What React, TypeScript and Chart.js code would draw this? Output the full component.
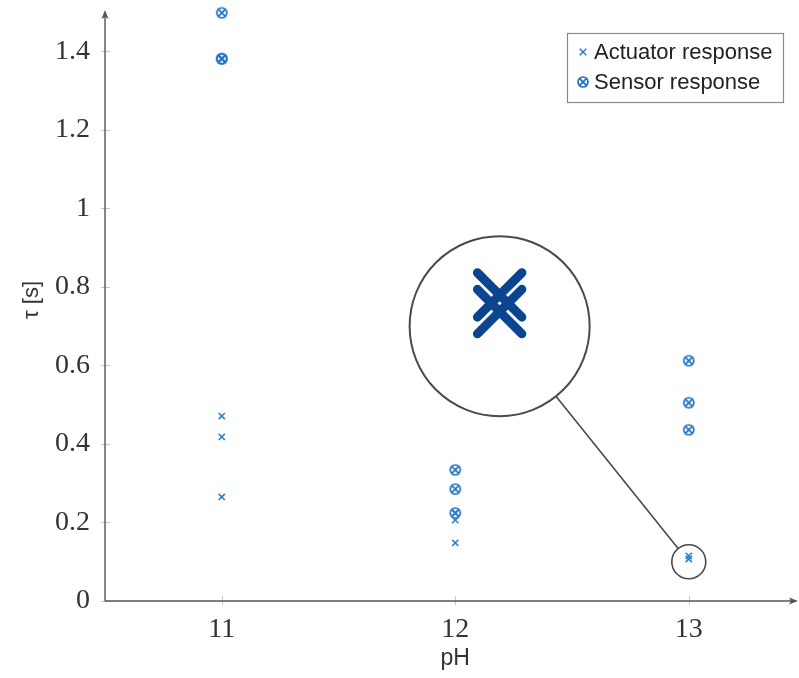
import React, { useEffect, useRef } from "react";
import { Chart, registerables } from "chart.js";

Chart.register(...registerables);

// ---- data ----
const actuatorPH = [11, 11, 11, 12, 12, 12, 13, 13];
const actuatorTau = [0.471, 0.418, 0.265, 0.224, 0.206, 0.148, 0.115, 0.107];
const sensorPH = [11, 11, 11, 12, 12, 12, 13, 13, 13];
const sensorTau = [1.498, 1.381, 1.381, 0.334, 0.285, 0.224, 0.612, 0.505, 0.436];
const xTicks = [11, 12, 13];
const yTicks = [0, 0.2, 0.4, 0.6, 0.8, 1, 1.2, 1.4];
const seriesNames = ["Actuator response", "Sensor response"];
const xTitle = "pH";
const yTitle = "τ [s]";
const zoomTarget = { x: 13, y: 0.1 };
const insetCenter = { x: 12.19, y: 0.7 };

const ACT_COLOR = "#2a7fcc";
const SEN_COLOR = "#1f72c0";
const INSET_COLOR = "#0b4590";
const AXIS_COLOR = "#555555";

function makeSensorMarker(color: string): HTMLCanvasElement {
  const c = document.createElement("canvas");
  const s = 14;
  c.width = s;
  c.height = s;
  const g = c.getContext("2d")!;
  g.strokeStyle = color;
  g.lineWidth = 1.7;
  g.beginPath();
  g.arc(7, 7, 5, 0, Math.PI * 2);
  g.stroke();
  const d = 5 / Math.SQRT2;
  g.beginPath();
  g.moveTo(7 - d, 7 - d);
  g.lineTo(7 + d, 7 + d);
  g.moveTo(7 + d, 7 - d);
  g.lineTo(7 - d, 7 + d);
  g.stroke();
  return c;
}

function drawX(ctx: CanvasRenderingContext2D, x: number, y: number, h: number) {
  ctx.beginPath();
  ctx.moveTo(x - h, y - h);
  ctx.lineTo(x + h, y + h);
  ctx.moveTo(x + h, y - h);
  ctx.lineTo(x - h, y + h);
  ctx.stroke();
}

export default function App() {
  const ref = useRef<HTMLCanvasElement | null>(null);

  useEffect(() => {
    document.body.style.margin = "0";
    const canvas = ref.current!;
    const sensorMarker = makeSensorMarker(SEN_COLOR);

    const decorPlugin = {
      id: "decor",
      beforeDatasetsDraw(chart: any) {
        const ctx = chart.ctx as CanvasRenderingContext2D;
        const { left, top, bottom } = chart.chartArea;
        const right = chart.chartArea.right + 4;
        const xs = chart.scales.x;
        const ys = chart.scales.y;
        ctx.save();
        // faint tick marks
        ctx.strokeStyle = "#c8c8c8";
        ctx.lineWidth = 1;
        yTicks.forEach((v) => {
          const py = Math.round(ys.getPixelForValue(v)) + 0.5;
          ctx.beginPath();
          ctx.moveTo(left - 4, py);
          ctx.lineTo(left + 5, py);
          ctx.stroke();
        });
        xTicks.forEach((v) => {
          const px = Math.round(xs.getPixelForValue(v)) + 0.5;
          ctx.beginPath();
          ctx.moveTo(px, bottom - 5);
          ctx.lineTo(px, bottom + 4);
          ctx.stroke();
        });
        // axes with arrows
        ctx.strokeStyle = AXIS_COLOR;
        ctx.fillStyle = AXIS_COLOR;
        ctx.lineWidth = 1.4;
        ctx.beginPath();
        ctx.moveTo(left, bottom);
        ctx.lineTo(left, top);
        ctx.moveTo(left, bottom);
        ctx.lineTo(right, bottom);
        ctx.stroke();
        ctx.beginPath();
        ctx.moveTo(left, top - 2);
        ctx.lineTo(left - 3.5, top + 7);
        ctx.lineTo(left, top + 5);
        ctx.lineTo(left + 3.5, top + 7);
        ctx.closePath();
        ctx.fill();
        ctx.beginPath();
        ctx.moveTo(right + 2, bottom);
        ctx.lineTo(right - 7, bottom - 3.5);
        ctx.lineTo(right - 5, bottom);
        ctx.lineTo(right - 7, bottom + 3.5);
        ctx.closePath();
        ctx.fill();

        // axis titles
        ctx.fillStyle = "#333333";
        ctx.textAlign = "center";
        ctx.textBaseline = "middle";
        ctx.font = "23px 'Liberation Sans', Arial, sans-serif";
        ctx.fillText(xTitle, xs.getPixelForValue(12), 659);
        ctx.save();
        ctx.translate(32, 300);
        ctx.rotate(-Math.PI / 2);
        ctx.font = "22px 'Liberation Sans', Arial, sans-serif";
        ctx.fillText(yTitle, 0, 0);
        ctx.restore();
        ctx.restore();
      },
      afterDatasetsDraw(chart: any) {
        const ctx = chart.ctx as CanvasRenderingContext2D;
        const xs = chart.scales.x;
        const ys = chart.scales.y;
        ctx.save();
        // --- inset magnifier ---
        const zc = { x: xs.getPixelForValue(zoomTarget.x), y: ys.getPixelForValue(zoomTarget.y) };
        const ic = { x: xs.getPixelForValue(insetCenter.x), y: ys.getPixelForValue(insetCenter.y) };
        const r1 = 17;
        const r2 = 90;
        const mag = r2 / r1;
        const dx = zc.x - ic.x;
        const dy = zc.y - ic.y;
        const dist = Math.hypot(dx, dy);
        const ux = dx / dist;
        const uy = dy / dist;
        ctx.strokeStyle = "#4a4a4a";
        ctx.lineWidth = 1.6;
        ctx.beginPath();
        ctx.moveTo(ic.x + ux * r2, ic.y + uy * r2);
        ctx.lineTo(zc.x - ux * r1, zc.y - uy * r1);
        ctx.stroke();
        ctx.beginPath();
        ctx.arc(zc.x, zc.y, r1, 0, Math.PI * 2);
        ctx.stroke();
        ctx.fillStyle = "#ffffff";
        ctx.lineWidth = 2;
        ctx.beginPath();
        ctx.arc(ic.x, ic.y, r2, 0, Math.PI * 2);
        ctx.fill();
        ctx.stroke();
        // magnified markers
        ctx.save();
        ctx.beginPath();
        ctx.arc(ic.x, ic.y, r2 - 1, 0, Math.PI * 2);
        ctx.clip();
        ctx.strokeStyle = INSET_COLOR;
        ctx.lineWidth = 9;
        ctx.lineCap = "round";
        actuatorPH.forEach((ph, i) => {
          const px = xs.getPixelForValue(ph);
          const py = ys.getPixelForValue(actuatorTau[i]);
          if (Math.hypot(px - zc.x, py - zc.y) <= r1) {
            drawX(ctx, ic.x + (px - zc.x) * mag, ic.y + (py - zc.y) * mag, 4.2 * mag);
          }
        });
        ctx.restore();

        // --- legend ---
        const lx = 567;
        const ly = 33;
        const lw = 216;
        const lh = 69;
        ctx.fillStyle = "#ffffff";
        ctx.fillRect(lx, ly, lw, lh);
        ctx.strokeStyle = "#8a8a8a";
        ctx.lineWidth = 1.2;
        ctx.strokeRect(lx + 0.5, ly + 0.5, lw, lh);
        ctx.font = "22px 'Liberation Sans', Arial, sans-serif";
        ctx.fillStyle = "#222222";
        ctx.textBaseline = "middle";
        ctx.textAlign = "left";
        const rows = [ly + 19, ly + 49];
        ctx.strokeStyle = ACT_COLOR;
        ctx.lineWidth = 1.5;
        drawX(ctx, lx + 16, rows[0], 3.3);
        ctx.drawImage(sensorMarker, lx + 16 - 7, rows[1] - 7);
        ctx.fillText(seriesNames[0], lx + 27, rows[0] + 1);
        ctx.fillText(seriesNames[1], lx + 27, rows[1] + 1);
        ctx.restore();
      },
    };

    const chart = new Chart(canvas, {
      type: "scatter",
      data: {
        datasets: [
          {
            label: seriesNames[0],
            data: actuatorPH.map((x, i) => ({ x, y: actuatorTau[i] })),
            pointStyle: "crossRot",
            pointRadius: 4.4,
            borderColor: ACT_COLOR,
            backgroundColor: ACT_COLOR,
            pointBorderWidth: 1.6,
            clip: false as any,
          },
          {
            label: seriesNames[1],
            data: sensorPH.map((x, i) => ({ x, y: sensorTau[i] })),
            pointStyle: sensorMarker as any,
            pointRadius: 6,
            borderColor: SEN_COLOR,
            backgroundColor: SEN_COLOR,
            clip: false as any,
          },
        ],
      },
      options: {
        animation: false,
        responsive: false,
        events: [],
        layout: { padding: { top: 12, right: 0, left: 0, bottom: 0 } },
        plugins: { legend: { display: false }, tooltip: { enabled: false } },
        scales: {
          x: {
            type: "linear",
            min: 10.5,
            max: 13.442,
            afterBuildTicks: (axis: any) => {
              axis.ticks = xTicks.map((v) => ({ value: v }));
            },
            afterFit: (s: any) => {
              s.height = 77;
              s.paddingLeft = 0;
              s.paddingRight = 0;
            },
            grid: { display: false },
            border: { display: false },
            ticks: {
              font: { family: "'Liberation Serif', serif", size: 28 },
              color: "#333333",
              padding: 4,
              callback: (v: any) => String(v),
            },
            title: { display: false },
          },
          y: {
            type: "linear",
            min: 0,
            max: 1.5,
            afterBuildTicks: (axis: any) => {
              axis.ticks = yTicks.map((v) => ({ value: v }));
            },
            afterFit: (s: any) => {
              s.width = 105;
              s.paddingTop = 0;
              s.paddingBottom = 0;
            },
            grid: { display: false },
            border: { display: false },
            ticks: {
              font: { family: "'Liberation Serif', serif", size: 28 },
              color: "#333333",
              padding: 7,
              callback: (v: any) => String(v),
            },
            title: { display: false },
          },
        },
      },
      plugins: [decorPlugin],
    });

    return () => chart.destroy();
  }, []);

  return (
    <canvas
      ref={ref}
      width={799}
      height={678}
      style={{ display: "block", width: 799, height: 678 }}
    />
  );
}
